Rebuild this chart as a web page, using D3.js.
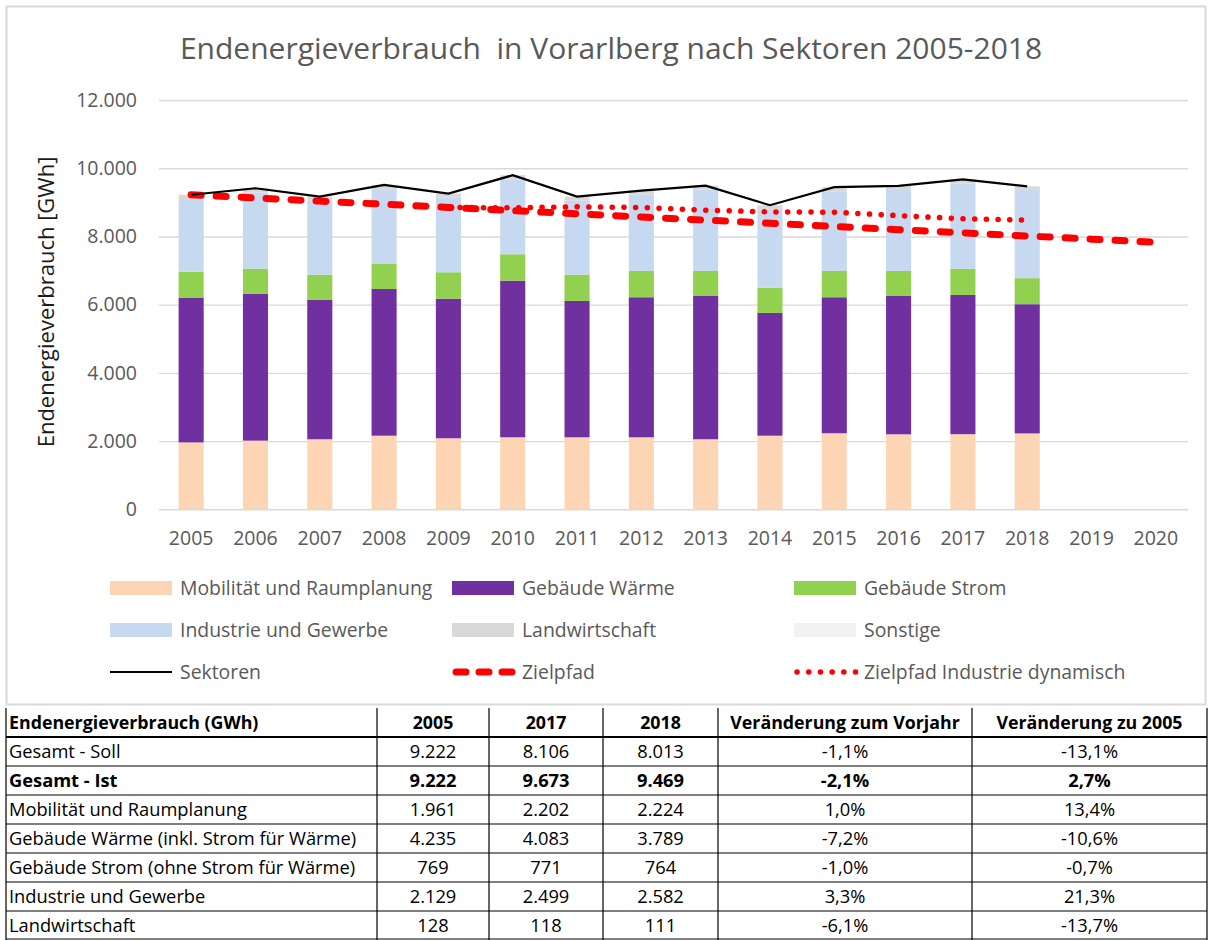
<!DOCTYPE html>
<html><head><meta charset="utf-8">
<script src="https://cdn.jsdelivr.net/npm/d3@7"></script>
<style>
body{margin:0;background:#fff}
svg{display:block}
text{font-family:"Open Sans",sans-serif}
</style>
</head><body>
<svg id="c" width="1212" height="940"></svg>
<script>
// ---------- data ----------
const years = ["2005","2006","2007","2008","2009","2010","2011","2012","2013","2014","2015","2016","2017","2018","2019","2020"];
const barYears = ["2005","2006","2007","2008","2009","2010","2011","2012","2013","2014","2015","2016","2017","2018"];
const mobilitaet     = [1961, 2012, 2053, 2158, 2082, 2111, 2111, 2111, 2053, 2158, 2229, 2199, 2202, 2224];
const gebaeudeWaerme = [4235, 4311, 4094, 4302, 4094, 4593, 3998, 4106, 4202, 3599, 3988, 4056, 4083, 3789];
const gebaeudeStrom  = [769, 733, 733, 734, 774, 774, 771, 771, 733, 742, 771, 733, 771, 764];
const industrie      = [2129, 2230, 2162, 2191, 2181, 2193, 2165, 2234, 2382, 2297, 2335, 2374, 2499, 2582];
const landwirtschaft = [128, 127, 125, 125, 124, 124, 122, 121, 120, 119, 120, 119, 118, 111];
const sonstige       = [0, 0, 0, 0, 0, 0, 0, 0, 0, 0, 0, 0, 0, 0];
const sektoren       = [9222, 9413, 9167, 9510, 9255, 9795, 9167, 9343, 9490, 8915, 9443, 9481, 9673, 9469];
const zielpfad       = [9222, 9129, 9036, 8943, 8850, 8757, 8664, 8571, 8478, 8385, 8292, 8199, 8106, 8013, 7920, 7827];
const zielpfadIndYears = ["2009","2010","2011","2012","2013","2014","2015","2016","2017","2018"];
const zielpfadInd    = [8850, 8840, 8870, 8850, 8770, 8720, 8710, 8610, 8520, 8480];
const yTicks = [0, 2000, 4000, 6000, 8000, 10000, 12000];

const seriesNames = ["Mobilität und Raumplanung","Gebäude Wärme","Gebäude Strom","Industrie und Gewerbe","Landwirtschaft","Sonstige"];
const seriesColors = ["#fcd5b5","#7030a0","#92d050","#c6d9f0","#d9d9d9","#f2f2f2"];
const seriesValues = [mobilitaet, gebaeudeWaerme, gebaeudeStrom, industrie, landwirtschaft, sonstige];

const title = "Endenergieverbrauch\u00a0 in Vorarlberg nach Sektoren 2005-2018";
const yTitle = "Endenergieverbrauch [GWh]";

const tableHeader = ["Endenergieverbrauch (GWh)", "2005", "2017", "2018", "Veränderung zum Vorjahr", "Veränderung zu 2005"];
const tableLabels = ["Gesamt - Soll","Gesamt - Ist","Mobilität und Raumplanung","Gebäude Wärme (inkl. Strom für Wärme)","Gebäude Strom (ohne Strom für Wärme)","Industrie und Gewerbe","Landwirtschaft"];
const tableCol2005 = ["9.222","9.222","1.961","4.235","769","2.129","128"];
const tableCol2017 = ["8.106","9.673","2.202","4.083","771","2.499","118"];
const tableCol2018 = ["8.013","9.469","2.224","3.789","764","2.582","111"];
const tableVorjahr = ["-1,1%","-2,1%","1,0%","-7,2%","-1,0%","3,3%","-6,1%"];
const tableZu2005  = ["-13,1%","2,7%","13,4%","-10,6%","-0,7%","21,3%","-13,7%"];
const tableBoldRows = [1];

// ---------- drawing ----------
const svg = d3.select("#c");
svg.append("rect").attr("width",1212).attr("height",940).attr("fill","#fff");
// chart border
svg.append("rect").attr("x",6.5).attr("y",6.5).attr("width",1199).attr("height",698)
  .attr("fill","none").attr("stroke","#d9d9d9").attr("stroke-width",2);

const x = d3.scaleBand().domain(years).range([159,1188]).paddingInner(0.61).paddingOuter(0.305);
const y = d3.scaleLinear().domain([0,12000]).range([509.3,100]);
const loc = d3.formatLocale({decimal:",", thousands:".", grouping:[3], currency:["","€"]});
const fmt = loc.format(",");

svg.append("text").attr("x",611).attr("y",59).attr("text-anchor","middle")
  .attr("font-size",30).attr("fill","#595959").text(title);

// y axis with gridlines
const yAxis = svg.append("g").attr("transform","translate(159,0)")
  .call(d3.axisLeft(y).tickValues(yTicks).tickFormat(fmt).tickSize(-(1188-159)).tickPadding(22));
yAxis.select(".domain").remove();
yAxis.selectAll(".tick line").attr("stroke","#d9d9d9").attr("stroke-width",1.4);
yAxis.selectAll(".tick text").attr("font-size",19.5).attr("fill","#595959").attr("font-family","Open Sans");

svg.append("text").attr("transform","translate(54,302) rotate(-90)").attr("text-anchor","middle")
  .attr("font-size",22).attr("fill","#1a1a1a").text(yTitle);

// x axis
const xAxis = svg.append("g").attr("transform","translate(0,509.3)")
  .call(d3.axisBottom(x).tickSize(0).tickPadding(22));
xAxis.select(".domain").remove();
xAxis.selectAll(".tick text").attr("font-size",19.5).attr("fill","#595959").attr("font-family","Open Sans");

// stacked bars
const rows = barYears.map((yr,i)=>{ const o={year:yr}; seriesNames.forEach((n,k)=>o[n]=seriesValues[k][i]); return o; });
const stack = d3.stack().keys(seriesNames)(rows);
svg.append("g").selectAll("g").data(stack).join("g").attr("fill",(d,i)=>seriesColors[i])
  .selectAll("rect").data(d=>d).join("rect")
  .attr("x",d=>x(d.data.year)).attr("width",x.bandwidth())
  .attr("y",d=>y(d[1])).attr("height",d=>y(d[0])-y(d[1]));

const cx = yr => x(yr)+x.bandwidth()/2;
// Zielpfad dashed
svg.append("path").datum(years.map((yr,i)=>[yr,zielpfad[i]]))
  .attr("d",d3.line().x(d=>cx(d[0])).y(d=>y(d[1])))
  .attr("fill","none").attr("stroke","#ff0000").attr("stroke-width",7)
  .attr("stroke-dasharray","10,15").attr("stroke-linecap","round");
// Zielpfad Industrie dynamisch dotted
svg.append("path").datum(zielpfadIndYears.map((yr,i)=>[yr,zielpfadInd[i]]))
  .attr("d",d3.line().x(d=>cx(d[0])).y(d=>y(d[1])))
  .attr("fill","none").attr("stroke","#ff0000").attr("stroke-width",5.5)
  .attr("stroke-dasharray","0.1,11.6").attr("stroke-linecap","round");
// Sektoren
svg.append("path").datum(barYears.map((yr,i)=>[yr,sektoren[i]]))
  .attr("d",d3.line().x(d=>cx(d[0])).y(d=>y(d[1])))
  .attr("fill","none").attr("stroke","#000").attr("stroke-width",2.2);

// legend
const legendItems = [
  {name:seriesNames[0], type:"rect", color:seriesColors[0]},
  {name:seriesNames[1], type:"rect", color:seriesColors[1]},
  {name:seriesNames[2], type:"rect", color:seriesColors[2]},
  {name:seriesNames[3], type:"rect", color:seriesColors[3]},
  {name:seriesNames[4], type:"rect", color:seriesColors[4]},
  {name:seriesNames[5], type:"rect", color:seriesColors[5]},
  {name:"Sektoren", type:"solid"},
  {name:"Zielpfad", type:"dash"},
  {name:"Zielpfad Industrie dynamisch", type:"dot"}
];
const legX = [110, 452, 794], legY = [588, 630, 672];
const lg = svg.append("g").selectAll("g").data(legendItems).join("g")
  .attr("transform",(d,i)=>`translate(${legX[i%3]},${legY[Math.floor(i/3)]})`);
lg.filter(d=>d.type==="rect").append("rect").attr("x",0).attr("y",-7).attr("width",62).attr("height",14).attr("fill",d=>d.color);
lg.filter(d=>d.type==="solid").append("line").attr("x1",0).attr("x2",62).attr("stroke","#000").attr("stroke-width",2.2);
lg.filter(d=>d.type==="dash").append("line").attr("x1",4).attr("x2",60).attr("stroke","#ff0000").attr("stroke-width",7)
  .attr("stroke-dasharray","10,13").attr("stroke-linecap","round");
lg.filter(d=>d.type==="dot").append("line").attr("x1",3).attr("x2",62).attr("stroke","#ff0000").attr("stroke-width",5.5)
  .attr("stroke-dasharray","0.1,11.6").attr("stroke-linecap","round");
lg.append("text").attr("x",70).attr("dy","0.35em").attr("font-size",19.4).attr("fill","#595959").text(d=>d.name);

// table
const colEdges = [6, 377, 489, 603, 718, 972, 1207];
const rowTop = 708, rowH = 29, nRows = 1 + tableLabels.length;
const tg = svg.append("g");
for (let r=1; r<=nRows; r++) {
  const yy = rowTop + r*rowH - (r===nRows?1:0);
  tg.append("line").attr("x1",colEdges[0]).attr("x2",colEdges[colEdges.length-1]).attr("y1",yy).attr("y2",yy)
    .attr("stroke","#000").attr("stroke-width", r===1?2:1.2);
}
colEdges.forEach((cxp,i)=>{
  tg.append("line").attr("x1",cxp).attr("x2",cxp).attr("y1", rowTop).attr("y2", rowTop+nRows*rowH)
    .attr("stroke","#000").attr("stroke-width",1.2);
});
const tableCols = [tableLabels, tableCol2005, tableCol2017, tableCol2018, tableVorjahr, tableZu2005];
tableHeader.forEach((h,c)=>{
  tg.append("text").attr("x", c===0 ? colEdges[0]+3 : (colEdges[c]+colEdges[c+1])/2)
    .attr("y", rowTop + rowH/2).attr("dy","0.36em").attr("text-anchor", c===0?"start":"middle")
    .attr("font-size",17.8).attr("font-weight","bold").attr("fill","#000").text(h);
});
tableLabels.forEach((lab,r)=>{
  tableCols.forEach((col,c)=>{
    tg.append("text").attr("x", c===0 ? colEdges[0]+3 : (colEdges[c]+colEdges[c+1])/2)
      .attr("y", rowTop + (r+1)*rowH + rowH/2).attr("dy","0.36em").attr("text-anchor", c===0?"start":"middle")
      .attr("font-size",18.3).attr("font-weight", tableBoldRows.includes(r)?"bold":"normal").attr("fill","#000")
      .text(col[r]);
  });
});
</script>
</body></html>
